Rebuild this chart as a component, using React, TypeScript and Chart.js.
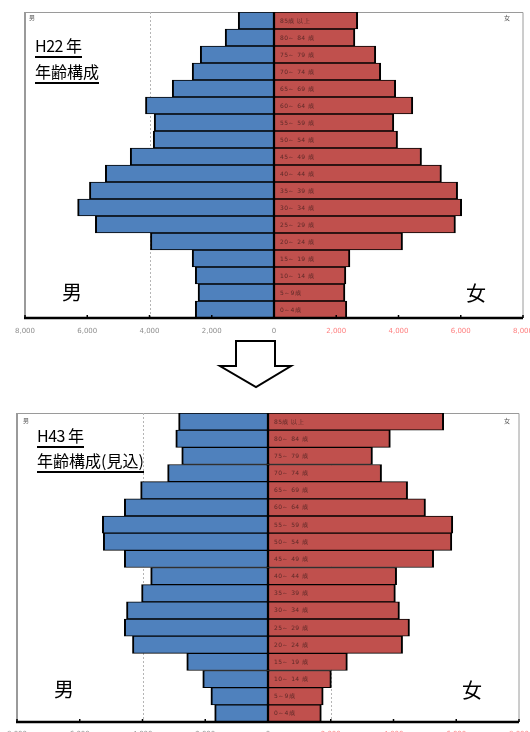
import React, { useEffect, useRef } from 'react';
import { Chart, registerables } from 'chart.js';

Chart.register(...registerables);

// ---- data ----
const AGE_GROUPS = [
  '85歳 以上', '80～ 84 歳', '75～ 79 歳', '70～ 74 歳', '65～ 69 歳', '60～ 64 歳',
  '55～ 59 歳', '50～ 54 歳', '45～ 49 歳', '40～ 44 歳', '35～ 39 歳', '30～ 34 歳',
  '25～ 29 歳', '20～ 24 歳', '15～ 19 歳', '10～ 14 歳', '5～9歳', '0～4歳',
];

const MALE_H22 = [1150, 1570, 2370, 2630, 3270, 4130, 3850, 3880, 4620, 5420, 5930, 6310, 5740, 3970, 2630, 2530, 2440, 2530];
const FEMALE_H22 = [2690, 2600, 3270, 3430, 3910, 4460, 3850, 3970, 4740, 5380, 5900, 6030, 5830, 4130, 2440, 2310, 2280, 2340];

const MALE_H43 = [2850, 2940, 2750, 3200, 4060, 4580, 5280, 5250, 4580, 3740, 4030, 4510, 4580, 4320, 2590, 2080, 1820, 1700];
const FEMALE_H43 = [5600, 3900, 3330, 3620, 4450, 5020, 5890, 5860, 5280, 4100, 4060, 4190, 4510, 4290, 2530, 2020, 1760, 1700];

const X_MIN = -8000;
const X_MAX = 8000;
const X_STEP = 2000;
const GRID_VALUES = [-4000, 2000];

const MALE_COLOR = '#4F81BD';
const FEMALE_COLOR = '#C0504D';

type Layout = {
  top: number;
  height: number;
  padLeft: number;
  padRight: number;
  padTop: number;
  axisHeight: number;
  labelPad: number;
};

function makeDecor() {
  return {
    id: 'decor',
    beforeDatasetsDraw(chart: any) {
      const { ctx, chartArea: a, scales } = chart;
      const x = scales.x;
      ctx.save();
      // frame
      ctx.strokeStyle = '#9a9a9a';
      ctx.lineWidth = 1;
      ctx.beginPath();
      ctx.moveTo(a.left, a.top + 0.5);
      ctx.lineTo(a.right, a.top + 0.5);
      ctx.lineTo(a.right, a.bottom);
      ctx.stroke();
      ctx.lineWidth = 2;
      ctx.beginPath();
      ctx.moveTo(a.left, a.top);
      ctx.lineTo(a.left, a.bottom);
      ctx.stroke();
      // dashed grid lines
      ctx.setLineDash([2, 2]);
      ctx.strokeStyle = '#b5b5b5';
      ctx.lineWidth = 1;
      GRID_VALUES.forEach((v) => {
        const px = Math.round(x.getPixelForValue(v)) + 0.5;
        ctx.beginPath();
        ctx.moveTo(px, a.top);
        ctx.lineTo(px, a.bottom);
        ctx.stroke();
      });
      ctx.restore();
    },
    afterDatasetsDraw(chart: any) {
      const { ctx, chartArea: a, scales } = chart;
      const x = scales.x;
      const y = scales.y;
      ctx.save();
      // age labels inside female bars
      ctx.fillStyle = '#5e2a28';
      ctx.font = '6px "DejaVu Sans", sans-serif';
      try { (ctx as any).letterSpacing = '0.4px'; } catch (e) {}
      ctx.textBaseline = 'middle';
      ctx.textAlign = 'left';
      const x0 = x.getPixelForValue(0);
      AGE_GROUPS.forEach((lbl, i) => {
        ctx.fillText(lbl, x0 + 6, y.getPixelForValue(i) + 0.5);
      });
      try { (ctx as any).letterSpacing = '0px'; } catch (e) {}
      // bottom axis line
      ctx.strokeStyle = '#000';
      ctx.lineWidth = 2.5;
      ctx.beginPath();
      ctx.moveTo(a.left - 1, a.bottom);
      ctx.lineTo(a.right, a.bottom);
      ctx.stroke();
      // tick marks (inside)
      ctx.lineWidth = 1.5;
      for (let v = X_MIN; v <= X_MAX; v += X_STEP) {
        const px = x.getPixelForValue(v);
        ctx.beginPath();
        ctx.moveTo(px, a.bottom);
        ctx.lineTo(px, a.bottom - 3);
        ctx.stroke();
      }
      ctx.restore();
    },
  };
}

function Pyramid({ male, female, layout }: { male: number[]; female: number[]; layout: Layout }) {
  const ref = useRef<HTMLCanvasElement>(null);
  useEffect(() => {
    if (!ref.current) return;
    const chart = new Chart(ref.current, {
      type: 'bar',
      data: {
        labels: AGE_GROUPS,
        datasets: [
          {
            label: '男',
            data: male.map((v) => -v),
            backgroundColor: MALE_COLOR,
            borderColor: '#000',
            borderWidth: { top: 1, bottom: 1, left: 2, right: 1.5 } as any,
            borderSkipped: false,
            barPercentage: 1,
            categoryPercentage: 1,
          },
          {
            label: '女',
            data: female,
            backgroundColor: FEMALE_COLOR,
            borderColor: '#000',
            borderWidth: { top: 1, bottom: 1, left: 1.5, right: 2 } as any,
            borderSkipped: false,
            barPercentage: 1,
            categoryPercentage: 1,
          },
        ],
      },
      options: {
        indexAxis: 'y',
        animation: false,
        responsive: false,
        maintainAspectRatio: false,
        layout: {
          padding: { left: layout.padLeft, right: layout.padRight, top: layout.padTop, bottom: 0 },
        },
        plugins: { legend: { display: false }, tooltip: { enabled: false } },
        scales: {
          x: {
            type: 'linear',
            stacked: true,
            min: X_MIN,
            max: X_MAX,
            grid: { display: false, drawTicks: false },
            border: { display: false },
            ticks: {
              stepSize: X_STEP,
              padding: layout.labelPad,
              autoSkip: false,
              maxRotation: 0,
              font: { size: 7, family: '"DejaVu Sans", sans-serif' },
              color: (ctx: any) => (ctx.tick && ctx.tick.value > 0 ? '#ff8080' : '#8f8f8f'),
              callback: (v: any) => Math.abs(Number(v)).toLocaleString('en-US'),
            },
            afterFit: (scale: any) => {
              scale.height = layout.axisHeight;
              scale.paddingLeft = 0;
              scale.paddingRight = 0;
            },
          },
          y: {
            stacked: true,
            display: false,
          },
        },
      },
      plugins: [makeDecor()],
    } as any);
    return () => chart.destroy();
  }, []);
  return (
    <canvas
      ref={ref}
      width={530}
      height={layout.height}
      style={{ position: 'absolute', left: 0, top: layout.top, width: 530, height: layout.height }}
    />
  );
}

const FONT_JP = '"Noto Sans CJK JP", "Noto Sans", sans-serif';

function Text({ left, top, size, children, underline, color, spacing }: any) {
  return (
    <div
      style={{
        position: 'absolute',
        left,
        top,
        fontFamily: FONT_JP,
        fontSize: size,
        lineHeight: `${size}px`,
        color: color || '#000',
        whiteSpace: 'nowrap',
        letterSpacing: spacing || 0,
        paddingBottom: underline ? 3 : 0,
        borderBottom: underline ? '2px solid #000' : 'none',
      }}
    >
      {children}
    </div>
  );
}

export default function App() {
  const layout1: Layout = { top: 0, height: 340, padLeft: 25, padRight: 7, padTop: 12, axisHeight: 22, labelPad: 9 };
  const layout2: Layout = { top: 390, height: 354, padLeft: 17, padRight: 11, padTop: 23, axisHeight: 22, labelPad: 8 };
  return (
    <div style={{ position: 'absolute', left: 0, top: 0, width: 530, height: 732, overflow: 'hidden', background: '#fff' }}>
      <Pyramid male={MALE_H22} female={FEMALE_H22} layout={layout1} />
      <Pyramid male={MALE_H43} female={FEMALE_H43} layout={layout2} />

      {/* chart 1 texts */}
      <Text left={29} top={15} size={6} color="#555">男</Text>
      <Text left={504} top={15} size={6} color="#555">女</Text>
      <Text left={35} top={37} size={16} underline spacing="-0.5px">H22 年</Text>
      <Text left={35} top={63} size={16} underline>年齢構成</Text>
      <Text left={62} top={282} size={20}>男</Text>
      <Text left={466} top={283} size={20}>女</Text>

      {/* arrow */}
      <svg width={530} height={60} style={{ position: 'absolute', left: 0, top: 335 }}>
        <polygon
          points="236,6 275,6 275,31 291,31 256,52 220,31 236,31"
          fill="#fff"
          stroke="#000"
          strokeWidth={2}
          strokeLinejoin="miter"
        />
      </svg>

      {/* chart 2 texts */}
      <Text left={23} top={418} size={6} color="#555">男</Text>
      <Text left={504} top={418} size={6} color="#555">女</Text>
      <Text left={37} top={427} size={16} underline spacing="-0.5px">H43 年</Text>
      <Text left={37} top={452} size={16} underline>年齢構成(見込)</Text>
      <Text left={54} top={679} size={20}>男</Text>
      <Text left={462} top={680} size={20}>女</Text>
    </div>
  );
}
